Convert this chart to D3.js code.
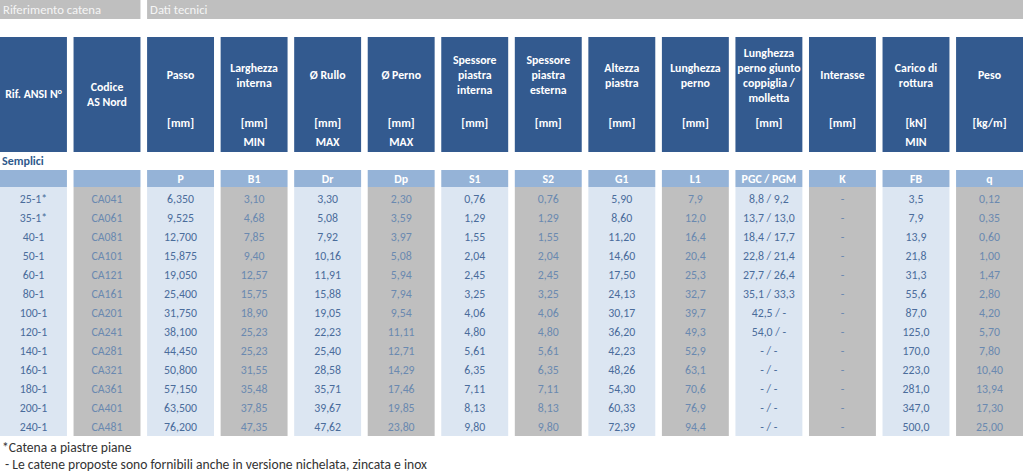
<!DOCTYPE html>
<html>
<head>
<meta charset="utf-8">
<script src="https://cdn.jsdelivr.net/npm/d3@7"></script>
<style>
  body { margin: 0; background: #fff; }
  svg { display: block; font-family: Carlito, Lato, "Open Sans", sans-serif; }
</style>
</head>
<body>
<svg id="tab" width="1023" height="475"></svg>
<script>
// intestazioni delle colonne (righe di titolo, unità, limite)
var titoli = [
  ["Rif. ANSI N°"], ["Codice", "AS Nord"], ["Passo"], ["Larghezza", "interna"],
  ["Ø Rullo"], ["Ø Perno"], ["Spessore", "piastra", "interna"], ["Spessore", "piastra", "esterna"],
  ["Altezza", "piastra"], ["Lunghezza", "perno"], ["Lunghezza", "perno giunto", "coppiglia /", "molletta"],
  ["Interasse"], ["Carico di", "rottura"], ["Peso"]
];
var unita = ["", "", "[mm]", "[mm]", "[mm]", "[mm]", "[mm]", "[mm]", "[mm]", "[mm]", "[mm]", "[mm]", "[kN]", "[kg/m]"];
var limiti = ["", "", "", "MIN", "MAX", "MAX", "", "", "", "", "", "", "MIN", ""];
var simboli = ["", "", "P", "B1", "Dr", "Dp", "S1", "S2", "G1", "L1", "PGC / PGM", "K", "FB", "q"];

// valori per colonna
var rif = ["25-1*", "35-1*", "40-1", "50-1", "60-1", "80-1", "100-1", "120-1", "140-1", "160-1", "180-1", "200-1", "240-1"];
var codice = ["CA041", "CA061", "CA081", "CA101", "CA121", "CA161", "CA201", "CA241", "CA281", "CA321", "CA361", "CA401", "CA481"];
var passo = ["6,350", "9,525", "12,700", "15,875", "19,050", "25,400", "31,750", "38,100", "44,450", "50,800", "57,150", "63,500", "76,200"];
var b1 = ["3,10", "4,68", "7,85", "9,40", "12,57", "15,75", "18,90", "25,23", "25,23", "31,55", "35,48", "37,85", "47,35"];
var dr = ["3,30", "5,08", "7,92", "10,16", "11,91", "15,88", "19,05", "22,23", "25,40", "28,58", "35,71", "39,67", "47,62"];
var dp = ["2,30", "3,59", "3,97", "5,08", "5,94", "7,94", "9,54", "11,11", "12,71", "14,29", "17,46", "19,85", "23,80"];
var s1 = ["0,76", "1,29", "1,55", "2,04", "2,45", "3,25", "4,06", "4,80", "5,61", "6,35", "7,11", "8,13", "9,80"];
var s2 = ["0,76", "1,29", "1,55", "2,04", "2,45", "3,25", "4,06", "4,80", "5,61", "6,35", "7,11", "8,13", "9,80"];
var g1 = ["5,90", "8,60", "11,20", "14,60", "17,50", "24,13", "30,17", "36,20", "42,23", "48,26", "54,30", "60,33", "72,39"];
var l1 = ["7,9", "12,0", "16,4", "20,4", "25,3", "32,7", "39,7", "49,3", "52,9", "63,1", "70,6", "76,9", "94,4"];
var pgc = ["8,8 / 9,2", "13,7 / 13,0", "18,4 / 17,7", "22,8 / 21,4", "27,7 / 26,4", "35,1 / 33,3", "42,5 / -", "54,0 / -",
           "- / -", "- / -", "- / -", "- / -", "- / -"];
var k = ["-", "-", "-", "-", "-", "-", "-", "-", "-", "-", "-", "-", "-"];
var fb = ["3,5", "7,9", "13,9", "21,8", "31,3", "55,6", "87,0", "125,0", "170,0", "223,0", "281,0", "347,0", "500,0"];
var q = ["0,12", "0,35", "0,60", "1,00", "1,47", "2,80", "4,20", "5,70", "7,80", "10,40", "13,94", "17,30", "25,00"];

var colonne = [rif, codice, passo, b1, dr, dp, s1, s2, g1, l1, pgc, k, fb, q];
var note = ["*Catena a piastre piane", " - Le catene proposte sono fornibili anche in versione nichelata, zincata e inox"];

var svg = d3.select("#tab");
var blu = "#335a8f", azzurro = "#95b3d7", chiaro = "#dce6f2", grigio = "#bfbfbf";

var x = d3.scaleBand().domain(d3.range(14)).range([0, 1023]).paddingInner(0.09).paddingOuter(0);
var y = d3.scaleBand().domain(d3.range(rif.length)).range([189.5, 436.5]);

// barre grigie in alto
var gruppi = [{ nome: "Riferimento catena", da: 0, a: 1 }, { nome: "Dati tecnici", da: 2, a: 13 }];
svg.selectAll("rect.gruppo").data(gruppi).enter().append("rect")
  .attr("class", "gruppo")
  .attr("x", function (d) { return x(d.da); })
  .attr("y", 0)
  .attr("width", function (d) { return x(d.a) + x.bandwidth() - x(d.da); })
  .attr("height", 19)
  .attr("fill", grigio);
svg.selectAll("text.gruppo").data(gruppi).enter().append("text")
  .attr("class", "gruppo")
  .attr("x", function (d) { return x(d.da) + 3; })
  .attr("y", 14)
  .style("font-size", "12.7px")
  .attr("fill", "#f5f5f5")
  .text(function (d) { return d.nome; });

// colonne
var col = svg.selectAll("g.col").data(colonne).enter().append("g")
  .attr("class", "col")
  .attr("transform", function (d, i) { return "translate(" + x(i) + ",0)"; });

col.append("rect")
  .attr("y", 37).attr("width", x.bandwidth()).attr("height", 115)
  .attr("fill", blu);

col.each(function (d, i) {
  var g = d3.select(this), cx = x.bandwidth() / 2;
  var righe = titoli[i];
  var centro = i < 2 ? 94 : 75;
  righe.forEach(function (t, j) {
    g.append("text")
      .attr("x", cx)
      .attr("y", centro + (j - (righe.length - 1) / 2) * 15 + 4)
      .attr("text-anchor", "middle")
      .attr("font-size", 11.8).attr("font-weight", "bold")
      .attr("fill", "#fff")
      .text(t);
  });
  g.append("text").attr("x", cx).attr("y", 127).attr("text-anchor", "middle")
    .attr("font-size", 11.8).attr("font-weight", "bold").attr("fill", "#fff").text(unita[i]);
  g.append("text").attr("x", cx).attr("y", 146).attr("text-anchor", "middle")
    .attr("font-size", 11.8).attr("font-weight", "bold").attr("fill", "#fff").text(limiti[i]);
});

// sottointestazione simboli
col.append("rect")
  .attr("y", 170).attr("width", x.bandwidth()).attr("height", 17)
  .attr("fill", azzurro);
col.append("text")
  .attr("x", x.bandwidth() / 2).attr("y", 183)
  .attr("text-anchor", "middle")
  .attr("font-size", 11.8).attr("font-weight", "bold")
  .attr("fill", "#fff")
  .text(function (d, i) { return simboli[i]; });

// corpo
col.append("rect")
  .attr("y", 187).attr("width", x.bandwidth()).attr("height", 249)
  .attr("fill", function (d, i) { return i % 2 ? grigio : chiaro; });

col.each(function (d, i) {
  d3.select(this).selectAll("text.val").data(d).enter().append("text")
    .attr("class", "val")
    .attr("x", x.bandwidth() / 2)
    .attr("y", function (v, r) { return y(r) + y.bandwidth() / 2 + 4; })
    .attr("text-anchor", "middle")
    .attr("font-size", 11.8)
    .attr("fill", i % 2 ? "#6a89b0" : "#4a6c9b")
    .text(function (v) { return v; });
});

svg.append("text")
  .attr("x", 2).attr("y", 165)
  .attr("font-size", 12).attr("font-weight", "bold")
  .attr("fill", "#2f5a8c")
  .text("Semplici");

svg.selectAll("text.nota").data(note).enter().append("text")
  .attr("class", "nota")
  .attr("x", 2)
  .attr("y", function (d, i) { return 452 + i * 17; })
  .style("font-size", "13.6px")
  .attr("fill", "#333")
  .attr("xml:space", "preserve")
  .style("white-space", "pre")
  .text(function (d) { return d; });
</script>
</body>
</html>
